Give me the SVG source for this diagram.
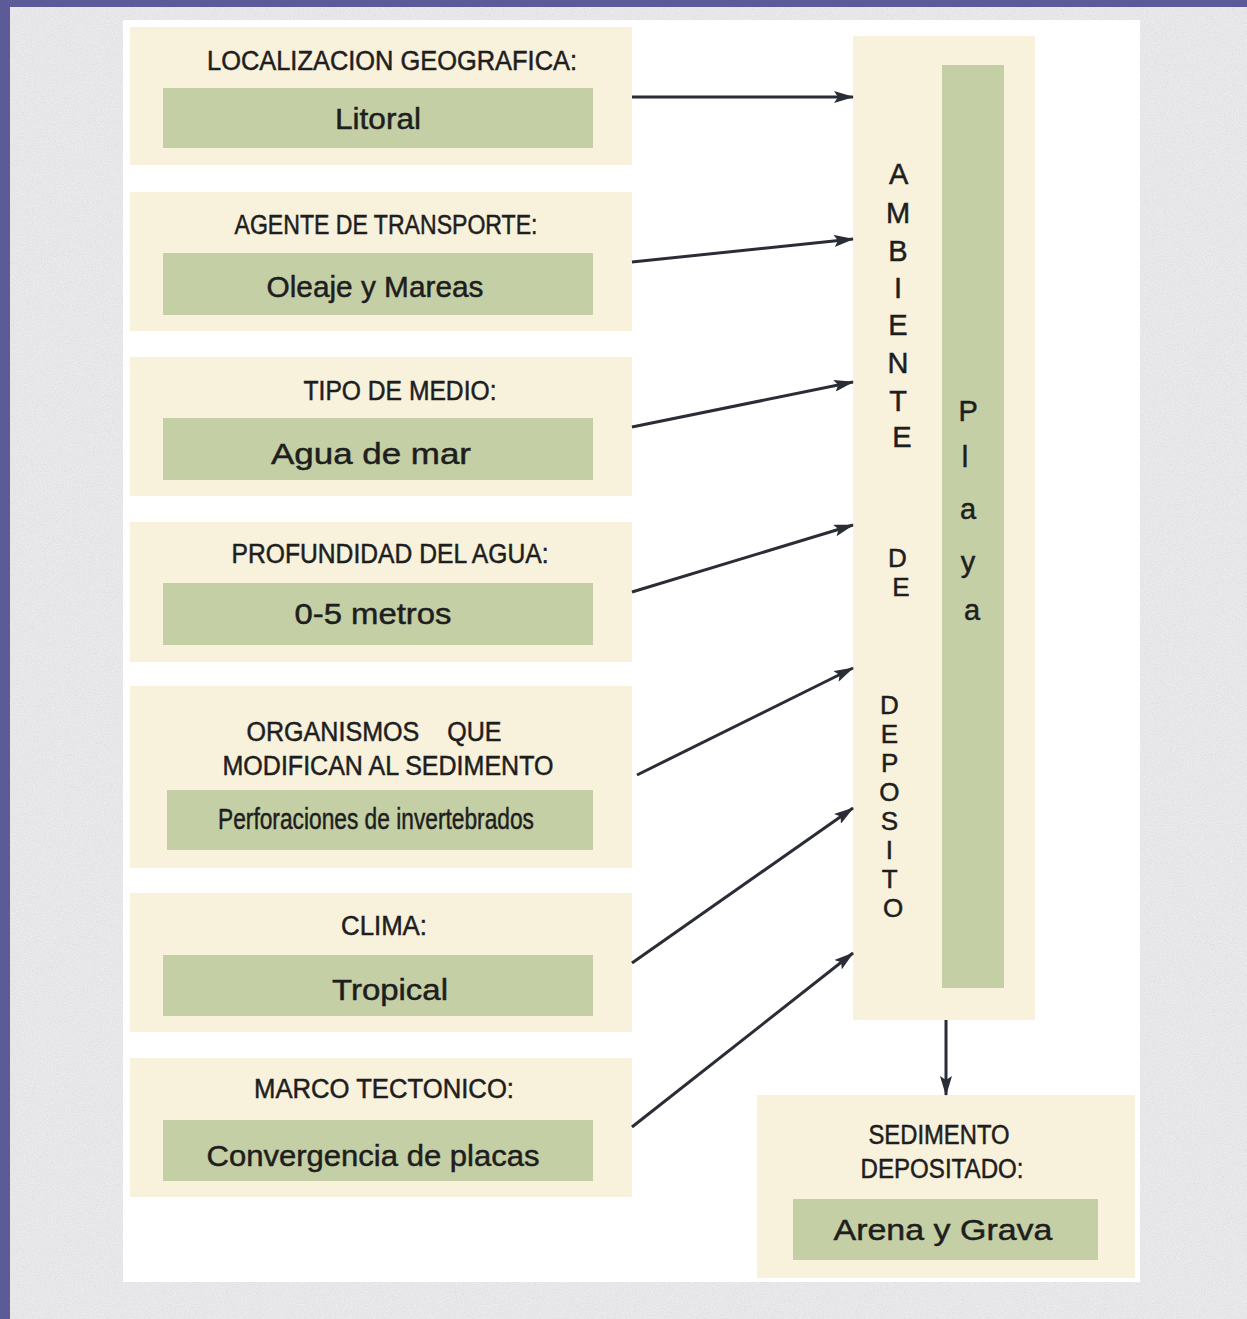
<svg xmlns="http://www.w3.org/2000/svg" width="1247" height="1319" viewBox="0 0 1247 1319">
<defs>
<filter id="noise" x="0" y="0" width="100%" height="100%">
<feTurbulence type="fractalNoise" baseFrequency="0.9" numOctaves="2" seed="3" result="n"/>
<feColorMatrix in="n" type="matrix" values="0 0 0 0 0.6  0 0 0 0 0.6  0 0 0 0 0.63  0 0 0 0.8 -0.25" result="m"/>
<feComposite in="m" in2="SourceGraphic" operator="in" result="c"/>
<feMerge><feMergeNode in="SourceGraphic"/><feMergeNode in="c"/></feMerge>
</filter>
<marker id="ah" viewBox="0 0 20 12" refX="19" refY="6" markerWidth="20" markerHeight="12" markerUnits="userSpaceOnUse" orient="auto">
<path d="M0,0 L20,6 L0,12 L4,6 Z" fill="#2a2d36"/>
</marker>
<style>
.beige{fill:#f8f1dc}
.green{fill:#c5cfa5}
text{stroke:#1e1e1e;stroke-width:0.5}
.h{font-family:"Liberation Sans",Arial,sans-serif;font-size:27px;fill:#1e1e1e;text-anchor:middle}
.b{font-family:"Liberation Sans",Arial,sans-serif;font-size:30px;fill:#1e1e1e;text-anchor:middle}
.v{font-family:"Liberation Sans",Arial,sans-serif;font-size:29px;fill:#1e1e1e;text-anchor:middle}
.vs{font-family:"Liberation Sans",Arial,sans-serif;font-size:26px;fill:#1e1e1e;text-anchor:middle}
.c{stroke:#2a2d36;stroke-width:3;fill:none;marker-end:url(#ah)}
</style>
</defs>
<rect x="0" y="0" width="1247" height="1319" fill="#5c5b98"/>
<rect x="10" y="7" width="1237" height="1312" fill="#ebebee" filter="url(#noise)"/>
<rect x="123" y="20" width="1017" height="1262" fill="#ffffff"/>

<g id="n1">
<rect class="beige" x="130" y="27" width="502" height="138"/>
<rect class="green" x="163" y="88" width="430" height="60"/>
<text class="h" x="392" y="70" textLength="370" lengthAdjust="spacingAndGlyphs">LOCALIZACION GEOGRAFICA:</text>
<text class="b" x="378" y="129" textLength="86" lengthAdjust="spacingAndGlyphs">Litoral</text>
</g>
<g id="n2">
<rect class="beige" x="130" y="192" width="502" height="139"/>
<rect class="green" x="163" y="253" width="430" height="62"/>
<text class="h" x="386" y="234" textLength="303" lengthAdjust="spacingAndGlyphs">AGENTE DE TRANSPORTE:</text>
<text class="b" x="375" y="297" textLength="217" lengthAdjust="spacingAndGlyphs">Oleaje y Mareas</text>
</g>
<g id="n3">
<rect class="beige" x="130" y="357" width="502" height="139"/>
<rect class="green" x="163" y="418" width="430" height="62"/>
<text class="h" x="400" y="400" textLength="193" lengthAdjust="spacingAndGlyphs">TIPO DE MEDIO:</text>
<text class="b" x="371" y="464" textLength="200" lengthAdjust="spacingAndGlyphs">Agua de mar</text>
</g>
<g id="n4">
<rect class="beige" x="130" y="522" width="502" height="140"/>
<rect class="green" x="163" y="583" width="430" height="62"/>
<text class="h" x="390" y="563" textLength="317" lengthAdjust="spacingAndGlyphs">PROFUNDIDAD DEL AGUA:</text>
<text class="b" x="373" y="624" textLength="157" lengthAdjust="spacingAndGlyphs">0-5 metros</text>
</g>
<g id="n5">
<rect class="beige" x="130" y="686" width="502" height="182"/>
<rect class="green" x="167" y="790" width="426" height="60"/>
<text class="h" x="374" y="741" textLength="255" lengthAdjust="spacingAndGlyphs" xml:space="preserve">ORGANISMOS    QUE</text>
<text class="h" x="388" y="775" textLength="331" lengthAdjust="spacingAndGlyphs">MODIFICAN AL SEDIMENTO</text>
<text class="b" x="376" y="829" font-size="25" textLength="316" lengthAdjust="spacingAndGlyphs">Perforaciones de invertebrados</text>
</g>
<g id="n6">
<rect class="beige" x="130" y="893" width="502" height="139"/>
<rect class="green" x="163" y="955" width="430" height="61"/>
<text class="h" x="384" y="935" textLength="86" lengthAdjust="spacingAndGlyphs">CLIMA:</text>
<text class="b" x="390" y="1000" textLength="116" lengthAdjust="spacingAndGlyphs">Tropical</text>
</g>
<g id="n7">
<rect class="beige" x="130" y="1058" width="502" height="139"/>
<rect class="green" x="163" y="1120" width="430" height="61"/>
<text class="h" x="384" y="1098" textLength="260" lengthAdjust="spacingAndGlyphs">MARCO TECTONICO:</text>
<text class="b" x="373" y="1166" textLength="333" lengthAdjust="spacingAndGlyphs">Convergencia de placas</text>
</g>

<g id="ambiente">
<rect class="beige" x="853" y="36" width="182" height="984"/>
<rect class="green" x="942" y="65" width="62" height="923"/>
<text class="v">
<tspan x="902" y="184">A</tspan>
<tspan x="902" y="223">M</tspan>
<tspan x="902" y="261">B</tspan>
<tspan x="902" y="298">I</tspan>
<tspan x="902" y="335">E</tspan>
<tspan x="902" y="373">N</tspan>
<tspan x="902" y="411">T</tspan>
<tspan x="902" y="447">E</tspan>
</text>
<text class="vs">
<tspan x="901" y="567">D</tspan>
<tspan x="901" y="596">E</tspan>
</text>
<text class="vs">
<tspan x="893" y="714">D</tspan>
<tspan x="893" y="743">E</tspan>
<tspan x="893" y="772">P</tspan>
<tspan x="893" y="801">O</tspan>
<tspan x="893" y="830">S</tspan>
<tspan x="893" y="859">I</tspan>
<tspan x="893" y="888">T</tspan>
<tspan x="893" y="917">O</tspan>
</text>
<text class="v">
<tspan x="972" y="421">P</tspan>
<tspan x="969" y="467">l</tspan>
<tspan x="972" y="519">a</tspan>
<tspan x="972" y="572">y</tspan>
<tspan x="972" y="620">a</tspan>
</text>
</g>

<g id="sedimento">
<rect class="beige" x="757" y="1095" width="378" height="183"/>
<rect class="green" x="793" y="1199" width="305" height="61"/>
<text class="h" x="939" y="1144" textLength="141" lengthAdjust="spacingAndGlyphs">SEDIMENTO</text>
<text class="h" x="942" y="1178" textLength="163" lengthAdjust="spacingAndGlyphs">DEPOSITADO:</text>
<text class="b" x="943" y="1240" textLength="219" lengthAdjust="spacingAndGlyphs">Arena y Grava</text>
</g>

<g id="connectors">
<line class="c" x1="632" y1="97" x2="853" y2="97"/>
<line class="c" x1="632" y1="262" x2="853" y2="239"/>
<line class="c" x1="632" y1="427" x2="853" y2="382"/>
<line class="c" x1="632" y1="592" x2="853" y2="525"/>
<line class="c" x1="637" y1="775" x2="853" y2="668"/>
<line class="c" x1="632" y1="963" x2="853" y2="808"/>
<line class="c" x1="632" y1="1127" x2="853" y2="953"/>
<line class="c" x1="946" y1="1020" x2="946" y2="1095"/>
</g>
</svg>
